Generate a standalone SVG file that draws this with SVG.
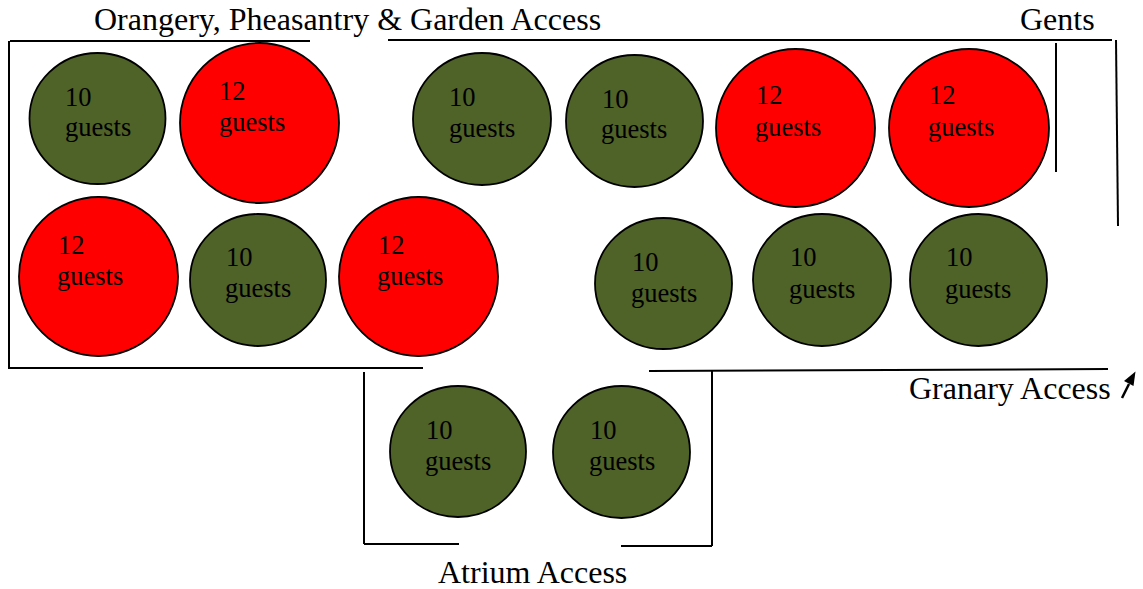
<svg xmlns="http://www.w3.org/2000/svg" width="1143" height="589" viewBox="0 0 1143 589">
<defs>
<style>
.g{fill:#4F6228;stroke:#000;stroke-width:1.8}
.r{fill:#FF0000;stroke:#000;stroke-width:1.8}
.t{font-family:"Liberation Serif","Times New Roman",serif;font-size:26.5px;fill:#000}
.lbl{font-family:"Liberation Serif","Times New Roman",serif;font-size:32px;fill:#000}
.w{stroke:#000;stroke-width:2;fill:none}
</style>
</defs>
<rect width="1143" height="589" fill="#fff"/>
<g id="walls">
<line class="w" x1="10" y1="41" x2="310" y2="41"/>
<line class="w" x1="9" y1="41" x2="9" y2="369"/>
<line class="w" x1="8" y1="368" x2="423" y2="368"/>
<line class="w" x1="388" y1="40" x2="1112" y2="40"/>
<line class="w" x1="1056" y1="43" x2="1056" y2="172"/>
<line class="w" x1="1116" y1="40" x2="1118" y2="226"/>
<line class="w" x1="649" y1="371" x2="1108" y2="369"/>
<line class="w" x1="712" y1="371" x2="712" y2="546"/>
<line class="w" x1="621" y1="546" x2="712" y2="546"/>
<line class="w" x1="364" y1="372" x2="364" y2="544"/>
<line class="w" x1="364" y1="544" x2="459" y2="544"/>
</g>
<g id="labels">
<text class="lbl" x="94" y="30">Orangery, Pheasantry &amp; Garden Access</text>
<text class="lbl" x="1020" y="30">Gents</text>
<text class="lbl" x="909" y="399">Granary Access</text>
<text class="lbl" x="438" y="583">Atrium Access</text>
</g>
<g id="connectors">
<line x1="1122" y1="398" x2="1129" y2="384" stroke="#000" stroke-width="2.5"/>
<polygon points="1135.5,371.5 1124,381 1133.5,386" fill="#000"/>
</g>
<g id="t1"><ellipse class="g" cx="97.5" cy="118.5" rx="68" ry="65.5"/><text class="t" x="65" y="106">10</text><text class="t" x="65" y="136">guests</text></g>
<g id="t2"><ellipse class="r" cx="259.5" cy="123" rx="79.5" ry="80"/><text class="t" x="219" y="100">12</text><text class="t" x="219" y="131">guests</text></g>
<g id="t3"><ellipse class="g" cx="482" cy="119" rx="69" ry="66"/><text class="t" x="449" y="106">10</text><text class="t" x="449" y="137">guests</text></g>
<g id="t4"><ellipse class="g" cx="634.5" cy="121" rx="68.5" ry="66"/><text class="t" x="602" y="108">10</text><text class="t" x="601" y="138">guests</text></g>
<g id="t5"><ellipse class="r" cx="795.5" cy="128" rx="79.5" ry="79"/><text class="t" x="756" y="104">12</text><text class="t" x="755" y="136">guests</text></g>
<g id="t6"><ellipse class="r" cx="969" cy="128" rx="80" ry="79"/><text class="t" x="929" y="104">12</text><text class="t" x="928" y="136">guests</text></g>
<g id="t7"><ellipse class="r" cx="98.5" cy="276.5" rx="79.5" ry="79.5"/><text class="t" x="58" y="254">12</text><text class="t" x="57" y="285">guests</text></g>
<g id="t8"><ellipse class="g" cx="258" cy="280" rx="68" ry="66"/><text class="t" x="226" y="266">10</text><text class="t" x="225" y="297">guests</text></g>
<g id="t9"><ellipse class="r" cx="418.5" cy="276.5" rx="79.5" ry="79.5"/><text class="t" x="378" y="254">12</text><text class="t" x="377" y="285">guests</text></g>
<g id="t10"><ellipse class="g" cx="663.5" cy="283.5" rx="68.5" ry="65.5"/><text class="t" x="632" y="271">10</text><text class="t" x="631" y="302">guests</text></g>
<g id="t11"><ellipse class="g" cx="822" cy="280" rx="69" ry="66"/><text class="t" x="790" y="266">10</text><text class="t" x="789" y="298">guests</text></g>
<g id="t12"><ellipse class="g" cx="978.5" cy="280" rx="68.5" ry="66"/><text class="t" x="946" y="266">10</text><text class="t" x="945" y="298">guests</text></g>
<g id="t13"><ellipse class="g" cx="458" cy="451.5" rx="68" ry="65.5"/><text class="t" x="426" y="439">10</text><text class="t" x="425" y="470">guests</text></g>
<g id="t14"><ellipse class="g" cx="621.5" cy="452" rx="68.5" ry="66"/><text class="t" x="590" y="439">10</text><text class="t" x="589" y="470">guests</text></g>
</svg>
